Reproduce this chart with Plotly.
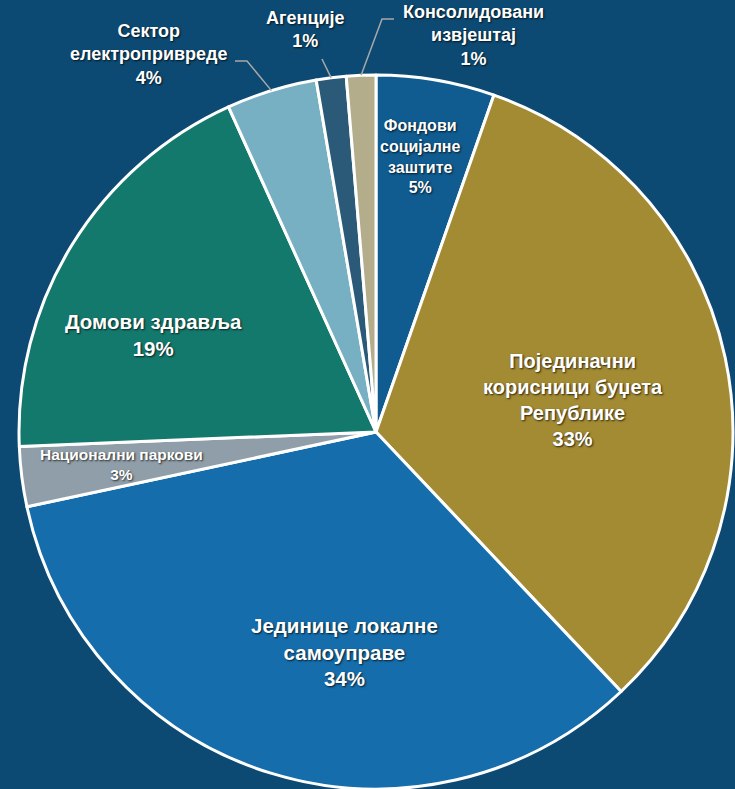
import math
import plotly.graph_objects as go

# ---- data ----
labels = [
    "Фондови социјалне заштите",
    "Појединачни корисници буџета Републике",
    "Јединице локалне самоуправе",
    "Национални паркови",
    "Домови здравља",
    "Сектор електропривреде",
    "Агенције",
    "Консолидовани извјештај",
]
values = [5.36, 32.6, 33.7, 2.71, 18.87, 4.1, 1.35, 1.33]
pct_text = ["5%", "33%", "34%", "3%", "19%", "4%", "1%", "1%"]
label_lines = [
    ["Фондови", "социјалне", "заштите"],
    ["Појединачни", "корисници буџета", "Републике"],
    ["Јединице локалне", "самоуправе"],
    ["Национални паркови"],
    ["Домови здравља"],
    ["Сектор", "електропривреде"],
    ["Агенције"],
    ["Консолидовани", "извјештај"],
]
colors = ["#105b8f", "#a38b34", "#166dab", "#8f9ea8",
          "#14796d", "#77afc3", "#2a5a78", "#b3ad8c"]

# ---- layout constants (pixels) ----
W, H = 735, 789
CX, CY, R = 376, 432, 357
BG = "#0d4a73"
FONT = "Liberation Sans, Arial, sans-serif"
SHADOW = "1px 1px 2px rgba(0,0,0,0.75)"


def px(x):
    return x / W


def py(y):
    return 1 - y / H


fig = go.Figure(go.Pie(
    labels=labels,
    values=values,
    sort=False,
    direction="clockwise",
    rotation=0,
    textinfo="none",
    hoverinfo="label+percent",
    marker=dict(colors=colors, line=dict(color="white", width=3)),
    domain=dict(x=[px(CX - R), px(CX + R)], y=[py(CY + R), py(CY - R)]),
    showlegend=False,
))

# label placement: (center x px, center y px, font size, elbow points)
place = [
    (421, 157, 16, None),
    (573, 400, 20, None),
    (344, 652, 20.5, None),
    (121, 464, 15.5, None),
    (153, 335, 20.5, None),
    (148, 54, 18, [(247, 61), (235, 61)]),
    (305, 30, 18, [(322, 59)]),
    (474, 35, 18, [(382, 19), (394, 19)]),
]

total = sum(values)
cum = 0.0
annotations = []
shapes = []
for i, (lx, ly, fs, elbow) in enumerate(place):
    a0 = cum / total * 360
    cum += values[i]
    a1 = cum / total * 360
    mid = math.radians((a0 + a1) / 2)
    text = "<br>".join(label_lines[i] + [pct_text[i]])
    annotations.append(dict(
        x=px(lx), y=py(ly), xref="paper", yref="paper",
        text=text, showarrow=False, xanchor="center", yanchor="middle",
        align="center",
        font=dict(family=FONT, size=fs, color="white", weight="bold",
                  shadow=SHADOW),
    ))
    if elbow:
        sx = CX + R * math.sin(mid)
        sy = CY - R * math.cos(mid)
        pts = [(sx, sy)] + elbow
        path = "M " + " L ".join(f"{px(x)},{py(y)}" for x, y in pts)
        shapes.append(dict(type="path", xref="paper", yref="paper",
                           path=path, line=dict(color="#a8a8a8", width=1.5)))

fig.update_layout(
    width=W, height=H,
    margin=dict(l=0, r=0, t=0, b=0),
    paper_bgcolor=BG, plot_bgcolor=BG,
    annotations=annotations,
    shapes=shapes,
)

fig.write_html(
    "out.html",
    config={"displayModeBar": False},
    post_script="document.body.style.margin='0';"
                "document.body.style.overflow='hidden';"
                f"document.body.style.background='{BG}';",
)
